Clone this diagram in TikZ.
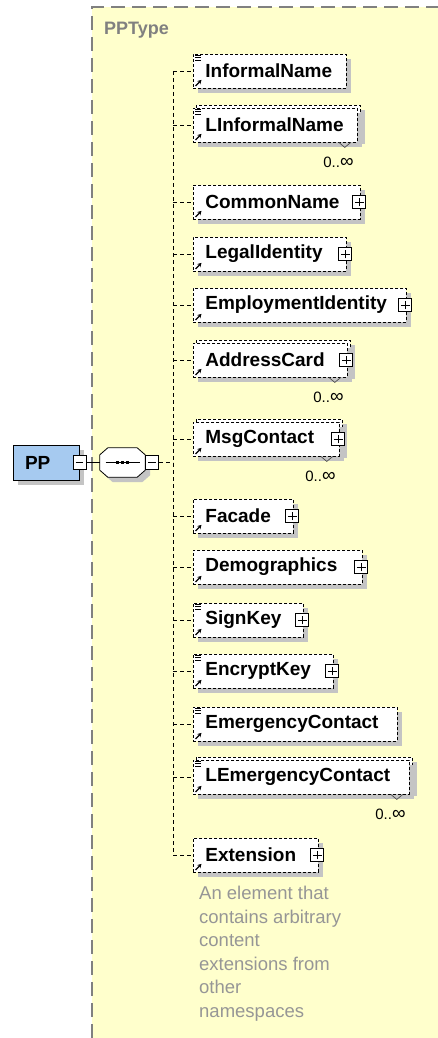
\documentclass[tikz,border=0pt]{standalone}
\usepackage{fontspec}
\setmainfont{Liberation Sans}
\usetikzlibrary{shadows,arrows.meta}
\definecolor{bgyellow}{RGB}{255,255,204}
\definecolor{ppblue}{RGB}{166,202,240}
\definecolor{shadowgray}{RGB}{196,196,196}
\definecolor{typegray}{RGB}{128,128,128}
\definecolor{notegray}{RGB}{150,150,150}
\tikzset{
  shade5/.style={drop shadow={shadow xshift=5pt,shadow yshift=-5pt,fill=shadowgray,opacity=1}},
  elem/.style={draw,dash pattern=on 3pt off 2pt,line width=0.8pt,fill=white,anchor=west,minimum height=34pt,inner xsep=12pt,inner ysep=0pt,align=left,font=\fontsize{19}{22}\selectfont\bfseries,shade5},
  elemback/.style={draw,dash pattern=on 3pt off 2pt,line width=0.8pt,fill=white,shade5},
  conn/.style={dash pattern=on 4pt off 3pt,line width=0.9pt},
  pmbox/.style={draw,fill=white,minimum width=13pt,minimum height=14pt,inner sep=0pt,line width=0.8pt},
  occurs/.style={font=\fontsize{15}{16}\selectfont,anchor=east,inner sep=0pt},
}
\begin{document}
\begin{tikzpicture}[x=1pt,y=-1pt]
\useasboundingbox (0,0) rectangle (438,1038);
\fill[bgyellow] (92,7) rectangle (438,1038);
\draw[typegray,dash pattern=on 14pt off 7pt,line width=1.2pt] (92,1038)--(92,7)--(438,7);
\node[anchor=west,text=typegray,font=\fontsize{18}{20}\selectfont\bfseries,inner sep=0pt] (ptype) at (104,30) {PPType};
% root element and sequence
\node[draw,fill=ppblue,line width=1pt,minimum width=66pt,minimum height=35pt,text width=42pt,inner xsep=12pt,align=left,font=\fontsize{19}{22}\selectfont\bfseries,shade5] (pp) at (46,462.5) {PP};
\node[pmbox] (ppm) at (pp.east) {};
\draw[line width=0.8pt] ([xshift=3pt]ppm.west)--([xshift=-3pt]ppm.east);
\node[minimum width=45pt,minimum height=29pt,inner sep=0pt] (seq) at (122.5,462.5) {};
\draw[fill=white,line width=0.8pt,shade5] ([xshift=8pt]seq.north west)--([xshift=-8pt]seq.north east)--([yshift=-7pt]seq.north east)
  --([yshift=7pt]seq.south east)--([xshift=-8pt]seq.south east)--([xshift=8pt]seq.south west)--([yshift=7pt]seq.south west)--([yshift=-7pt]seq.north west)--cycle;
\draw[line width=1pt] ([xshift=-17pt]seq.center)--([xshift=17pt]seq.center);
\foreach \d in {-5,0,5}
  \fill ([xshift=\d*1pt]seq.center) +(-1.7pt,-1.7pt) rectangle +(1.7pt,1.7pt);
\node[pmbox,anchor=west] (seqm) at (seq.east) {};
\draw[line width=0.8pt] ([xshift=3pt]seqm.west)--([xshift=-3pt]seqm.east);
\draw[line width=0.9pt] (ppm.east)--(seq.west);
\coordinate (fork) at (173,462.5);
\draw[conn] (seqm.east)--(fork);
% children: y / right edge / name / label / plus / many / simple
\foreach \y/\r/\nm/\lbl/\pl/\mu/\si in {
  71/346/inf/InformalName/0/0/1,
  125/357/linf/LInformalName/0/1/1,
  202/360/cmn/CommonName/1/0/0,
  254/346/legal/LegalIdentity/1/0/0,
  305/406/empl/EmploymentIdentity/1/0/0,
  360/347/addr/AddressCard/1/1/0,
  439/339/msg/MsgContact/1/1/0,
  516/293/fac/Facade/1/0/0,
  567/362/demo/Demographics/1/0/0,
  620/303/sign/SignKey/1/0/1,
  671/333/enc/EncryptKey/1/0/1,
  724/397/emer/EmergencyContact/0/0/1,
  777/409/lemer/LEmergencyContact/0/1/1,
  855/318/ext/Extension/1/0/0}{
\pgfmathsetmacro{\w}{\r-193-24}
\ifnum\mu=1 \draw[elemback] (196,\y-20) rectangle (\r+3,\y+14); \fi
\node[elem,text width=\w pt] (\nm) at (193,\y) {\lbl};
\draw[conn] (fork|-\nm.west)--(\nm.west);
\draw[-{Stealth[length=4pt,width=4.5pt]},line width=1.2pt] ([shift={(2.5pt,2.5pt)}]\nm.south west)--++(6pt,6pt);
\ifnum\si=1
  \draw[line width=0.7pt] ([shift={(2pt,-2pt)}]\nm.north west)--++(6pt,0pt)
    ([shift={(2pt,-4.2pt)}]\nm.north west)--++(6pt,0pt)
    ([shift={(2pt,-6.4pt)}]\nm.north west)--++(6pt,0pt);
\fi
\ifnum\pl=1
  \node[pmbox,minimum height=13pt] (\nm-p) at ([xshift=-1.5pt]\nm.east) {};
  \draw[line width=0.8pt] ([xshift=2.5pt]\nm-p.west)--([xshift=-2.5pt]\nm-p.east)
    ([yshift=2.5pt]\nm-p.south)--([yshift=-2.5pt]\nm-p.north);
\fi
\ifnum\mu=1
  \draw[line width=0.7pt,black!70] ([xshift=-19pt]\nm.south east)--([xshift=-13pt,yshift=-5pt]\nm.south east)--([xshift=-7pt]\nm.south east);
  \node[occurs] (\nm-o) at ([xshift=-4pt,yshift=-20pt]\nm.south east) {0..{\fontsize{19}{16}\selectfont ∞}};
\fi
}
\draw[conn] (fork|-inf.west)--(fork|-ext.west);
\node[anchor=north west,align=left,text=notegray,font=\fontsize{18.5}{23.5}\selectfont,inner sep=0pt] (note) at (199,886)
  {An element that\\contains arbitrary\\content\\extensions from\\other\\namespaces};
\end{tikzpicture}
\end{document}
